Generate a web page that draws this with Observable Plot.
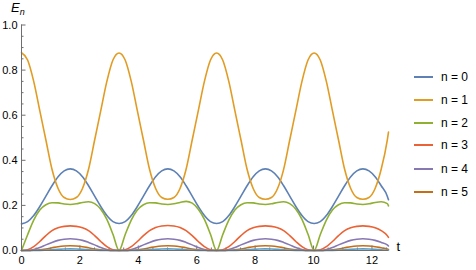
<!DOCTYPE html>
<html>
<head>
<meta charset="utf-8">
<script src="https://cdn.jsdelivr.net/npm/d3@7"></script>
<script src="https://cdn.jsdelivr.net/npm/@observablehq/plot@0.6"></script>
<style>
  body { margin: 0; background: #fff; }
  #wrap { position: relative; width: 476px; height: 270px; font-family: "Liberation Sans", Arial, sans-serif; color: #000; }
  #ylab { position: absolute; left: 11px; top: 0px; font-style: italic; font-size: 13px; line-height: 16px; }
  #ylab sub { font-size: 9px; vertical-align: -3px; line-height: 0; }
  .sw { position: absolute; left: 414px; width: 19px; height: 2px; }
  .lt { position: absolute; left: 441px; font-size: 12px; line-height: 14px; white-space: nowrap; }
  svg { position: absolute; left: 0; top: 0; }
</style>
</head>
<body>
<div id="wrap"><div id="ylab">E<sub>n</sub></div></div>
<script>
// time samples
const times = [0, 0.209, 0.418, 0.626, 0.835, 1.044, 1.253, 1.461, 1.670, 1.879, 2.088, 2.296, 2.505, 2.714, 2.923, 3.131,
  3.340, 3.549, 3.758, 3.966, 4.175, 4.384, 4.593, 4.801, 5.010, 5.219, 5.428, 5.636, 5.845, 6.054, 6.263, 6.471,
  6.680, 6.889, 7.098, 7.306, 7.515, 7.724, 7.933, 8.141, 8.350, 8.559, 8.768, 8.976, 9.185, 9.394, 9.603, 9.811,
  10.020, 10.229, 10.438, 10.646, 10.855, 11.064, 11.273, 11.481, 11.690, 11.899, 12.108, 12.316, 12.525, 12.566];

const seriesNames = ["n = 0", "n = 1", "n = 2", "n = 3", "n = 4", "n = 5", "n = 6"];
const seriesColors = ["#5E81B5", "#E19C24", "#8FB032", "#EB6235", "#8778B3", "#C56E1A", "#5D9EC7"];

const e0 = [0.118, 0.128, 0.155, 0.195, 0.241, 0.287, 0.327, 0.353, 0.362, 0.353, 0.327, 0.287, 0.241, 0.195, 0.155, 0.128,
  0.120, 0.128, 0.155, 0.195, 0.241, 0.287, 0.327, 0.353, 0.362, 0.353, 0.327, 0.287, 0.241, 0.195, 0.155, 0.128,
  0.120, 0.128, 0.155, 0.195, 0.241, 0.287, 0.327, 0.353, 0.362, 0.353, 0.327, 0.287, 0.241, 0.195, 0.155, 0.128,
  0.120, 0.128, 0.155, 0.195, 0.241, 0.287, 0.327, 0.353, 0.362, 0.353, 0.327, 0.287, 0.241, 0.225];
const e1 = [0.877, 0.845, 0.750, 0.620, 0.490, 0.360, 0.275, 0.235, 0.226, 0.235, 0.275, 0.360, 0.490, 0.620, 0.750, 0.845,
  0.876, 0.845, 0.750, 0.620, 0.490, 0.360, 0.275, 0.235, 0.227, 0.235, 0.275, 0.360, 0.490, 0.620, 0.750, 0.845,
  0.876, 0.845, 0.750, 0.620, 0.490, 0.360, 0.275, 0.235, 0.227, 0.235, 0.275, 0.360, 0.490, 0.620, 0.750, 0.845,
  0.876, 0.845, 0.750, 0.620, 0.490, 0.360, 0.275, 0.235, 0.227, 0.235, 0.275, 0.360, 0.490, 0.525];
const e2 = [0, 0.070, 0.135, 0.180, 0.203, 0.212, 0.211, 0.206, 0.204, 0.207, 0.213, 0.216, 0.208, 0.183, 0.138, 0.072,
  0, 0.070, 0.135, 0.180, 0.203, 0.212, 0.211, 0.206, 0.204, 0.207, 0.213, 0.218, 0.210, 0.183, 0.138, 0.072,
  0, 0.070, 0.135, 0.180, 0.203, 0.212, 0.211, 0.206, 0.204, 0.207, 0.213, 0.216, 0.208, 0.183, 0.138, 0.072,
  0, 0.070, 0.135, 0.180, 0.203, 0.212, 0.211, 0.206, 0.204, 0.207, 0.213, 0.216, 0.208, 0.198];
const e3 = [0, 0.003, 0.017, 0.040, 0.066, 0.088, 0.101, 0.107, 0.109, 0.107, 0.101, 0.088, 0.066, 0.040, 0.017, 0.003,
  0, 0.003, 0.017, 0.040, 0.066, 0.088, 0.102, 0.109, 0.111, 0.109, 0.102, 0.088, 0.066, 0.040, 0.017, 0.003,
  0, 0.003, 0.017, 0.040, 0.066, 0.088, 0.101, 0.107, 0.109, 0.107, 0.101, 0.088, 0.066, 0.040, 0.017, 0.003,
  0, 0.003, 0.017, 0.040, 0.066, 0.088, 0.101, 0.107, 0.109, 0.107, 0.101, 0.088, 0.066, 0.058];
const e4 = [0, 0, 0.004, 0.013, 0.025, 0.036, 0.045, 0.050, 0.052, 0.050, 0.045, 0.036, 0.025, 0.013, 0.004, 0,
  0, 0, 0.004, 0.013, 0.025, 0.036, 0.045, 0.050, 0.052, 0.050, 0.045, 0.036, 0.025, 0.013, 0.004, 0,
  0, 0, 0.004, 0.013, 0.025, 0.036, 0.045, 0.050, 0.052, 0.050, 0.045, 0.036, 0.025, 0.013, 0.004, 0,
  0, 0, 0.004, 0.013, 0.025, 0.036, 0.045, 0.050, 0.052, 0.050, 0.045, 0.036, 0.025, 0.020];
const e5 = [0, 0, 0.001, 0.003, 0.007, 0.012, 0.017, 0.020, 0.021, 0.020, 0.017, 0.012, 0.007, 0.003, 0.001, 0,
  0, 0, 0.001, 0.003, 0.007, 0.012, 0.017, 0.020, 0.021, 0.020, 0.017, 0.012, 0.007, 0.003, 0.001, 0,
  0, 0, 0.001, 0.003, 0.007, 0.012, 0.017, 0.020, 0.021, 0.020, 0.017, 0.012, 0.007, 0.003, 0.001, 0,
  0, 0, 0.001, 0.003, 0.007, 0.012, 0.017, 0.020, 0.021, 0.020, 0.017, 0.012, 0.007, 0.005];
const e6 = [0, 0, 0, 0.0005, 0.0015, 0.003, 0.005, 0.0065, 0.007, 0.0065, 0.005, 0.003, 0.0015, 0.0005, 0, 0,
  0, 0, 0, 0.0005, 0.0015, 0.003, 0.005, 0.0065, 0.007, 0.0065, 0.005, 0.003, 0.0015, 0.0005, 0, 0,
  0, 0, 0, 0.0005, 0.0015, 0.003, 0.005, 0.0065, 0.007, 0.0065, 0.005, 0.003, 0.0015, 0.0005, 0, 0,
  0, 0, 0, 0.0005, 0.0015, 0.003, 0.005, 0.0065, 0.007, 0.0065, 0.005, 0.003, 0.0015, 0.001];

const yMajor = [0, 0.2, 0.4, 0.6, 0.8, 1.0];
const yMinor = [0.05, 0.1, 0.15, 0.25, 0.3, 0.35, 0.45, 0.5, 0.55, 0.65, 0.7, 0.75, 0.85, 0.9, 0.95];
const xMajor = [0, 2, 4, 6, 8, 10, 12];
const xMinor = [0.5, 1, 1.5, 2.5, 3, 3.5, 4.5, 5, 5.5, 6.5, 7, 7.5, 8.5, 9, 9.5, 10.5, 11, 11.5, 12.5];

const allSeries = [e0, e1, e2, e3, e4, e5, e6];
const rows = [];
allSeries.forEach((vals, i) => vals.forEach((v, j) => rows.push({n: seriesNames[i], t: times[j], v})));

const W = 476, H = 270, mL = 21, mR = 88, mT = 24.5, mB = 20;
const fw = W - mL - mR, fh = H - mT - mB;
const axisColor = "#6f6f6f";

const chart = Plot.plot({
  width: W, height: H,
  marginLeft: mL, marginRight: mR, marginTop: mT, marginBottom: mB,
  x: {domain: [0, 4 * Math.PI]},
  y: {domain: [0, 1]},
  color: {domain: seriesNames, range: seriesColors},
  style: {fontFamily: '"Liberation Sans", Arial, sans-serif', fontSize: "11px", color: "#000", background: "transparent", overflow: "visible"},
  marks: [
    Plot.ruleY(yMinor, {stroke: axisColor, insetRight: fw - 2.5}),
    Plot.ruleY(yMajor, {stroke: axisColor, insetRight: fw - 4.5}),
    Plot.ruleX(xMinor, {stroke: axisColor, insetTop: fh - 2.5}),
    Plot.ruleX(xMajor, {stroke: axisColor, insetTop: fh - 4.5}),
    Plot.line(rows, {x: "t", y: "v", z: "n", stroke: "n", strokeWidth: 1.6, curve: "monotone-x"}),
    Plot.ruleX([0], {stroke: axisColor}),
    Plot.ruleY([0], {stroke: axisColor}),
    Plot.axisY(yMajor, {tickSize: 0, tickPadding: 4, tickFormat: d3.format(".1f"), label: null}),
    Plot.axisX(xMajor, {tickSize: 0, tickPadding: 6, tickFormat: "d", label: null}),
    Plot.text(["t"], {frameAnchor: "bottom-right", dx: 8, textAnchor: "start", fontSize: 13})
  ]
});

const wrap = document.getElementById("wrap");
wrap.appendChild(chart);

const legendCenters = [76.7, 100, 122.7, 145.3, 168.7, 191.7];
legendCenters.forEach((cy, i) => {
  const sw = document.createElement("div");
  sw.className = "sw";
  sw.style.top = (cy - 1) + "px";
  sw.style.background = seriesColors[i];
  wrap.appendChild(sw);
  const lt = document.createElement("div");
  lt.className = "lt";
  lt.style.top = (cy - 7) + "px";
  lt.textContent = seriesNames[i];
  wrap.appendChild(lt);
});
</script>
</body>
</html>
